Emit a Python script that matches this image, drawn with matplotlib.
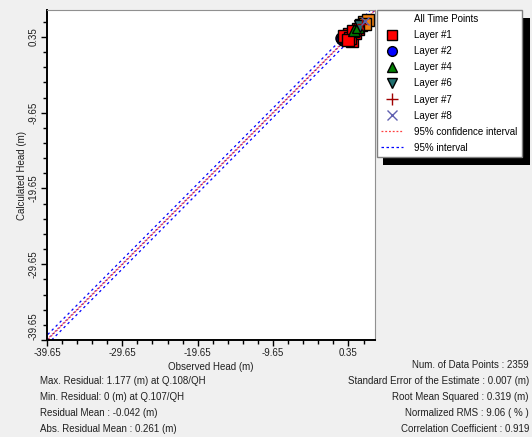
import numpy as np
import matplotlib.pyplot as plt
from matplotlib.patches import Rectangle
from matplotlib.ticker import FixedLocator

# axis range and ticks
axis_min = -39.65
axis_max = 3.9
tick_values = [-39.65, -29.65, -19.65, -9.65, 0.35]
tick_labels = ["-39.65", "-29.65", "-19.65", "-9.65", "0.35"]
minor_step = 2.0

# interval half-widths (m)
conf_offset = 0.06
pred_offset = 0.62

# observed / calculated heads per layer
layer1_obs = [0.08, 0.88, 1.68, 0.48, 1.28, -0.2, 0.6, 1.0, 0.3]
layer1_calc = [0.35, -0.18, 1.40, 0.74, 0.88, 0.5, 0.2, 1.1, 0.0]
layer2_obs = [-0.58, -0.32, -0.45]
layer2_calc = [0.22, -0.04, 0.05]
layer4_obs = [1.15, 1.68]
layer4_calc = [1.27, 1.67]
layer6_obs = [1.9]
layer6_calc = [1.85]
layer7_obs = [2.1]
layer7_calc = [2.0]
layer8_obs = [2.5]
layer8_calc = [2.4]
other_obs = [2.35, 2.88, 2.0, 2.6]
other_calc = [2.32, 2.59, 1.9, 2.1]

left_stats = [
    "Max. Residual: 1.177 (m) at Q.108/QH",
    "Min. Residual: 0 (m) at Q.107/QH",
    "Residual Mean : -0.042 (m)",
    "Abs. Residual Mean : 0.261 (m)",
]
right_stats = [
    "Num. of Data Points : 2359",
    "Standard Error of the Estimate : 0.007 (m)",
    "Root Mean Squared : 0.319 (m)",
    "Normalized RMS : 9.06 ( % )",
    "Correlation Coefficient : 0.919",
]

plt.rcParams['font.family'] = ['Liberation Sans', 'DejaVu Sans']
plt.rcParams['font.size'] = 7

fig = plt.figure(figsize=(5.32, 4.37), dpi=100, facecolor='#f0f0f0')
ax = fig.add_axes([0.0883, 0.222, 0.617, 0.755])
ax.set_facecolor('white')

line_x = [axis_min - 2, axis_max + 2]
ax.plot(line_x, line_x, color='blue', lw=0.9, ls=(0, (1, 2)))
ax.plot(line_x, [v + conf_offset for v in line_x], color='#ff4040', lw=0.9, ls=(1, (1, 2)))
ax.plot(line_x, [v - conf_offset for v in line_x], color='#ff4040', lw=0.9, ls=(2, (1, 2)))
ax.plot(line_x, [v + pred_offset for v in line_x], color='blue', lw=0.9, ls=(0, (2, 2.5)))
ax.plot(line_x, [v - pred_offset for v in line_x], color='blue', lw=0.9, ls=(0, (2, 2.5)))

mk = dict(ls='none', markeredgecolor='black', markeredgewidth=1.0, ms=8)
ax.plot(other_obs, other_calc, marker='s', color='#f08010', **mk)
ax.plot(layer2_obs, layer2_calc, marker='o', color='blue', **mk)
ax.plot(layer1_obs, layer1_calc, marker='s', color='red', **mk)
ax.plot(layer4_obs, layer4_calc, marker='^', color='#008000', **mk)
ax.plot(layer6_obs, layer6_calc, marker='v', color='#207070', **mk)
ax.plot(layer7_obs, layer7_calc, marker='+', color='#a00000', ls='none', ms=7)
ax.plot(layer8_obs, layer8_calc, marker='x', color='#6060b0', ls='none', ms=6)

ax.set_xlim(axis_min, axis_max)
ax.set_ylim(axis_min, axis_max)
minor_values = np.arange(axis_min, axis_max, minor_step)
for axis in (ax.xaxis, ax.yaxis):
    axis.set_major_locator(FixedLocator(tick_values))
    axis.set_minor_locator(FixedLocator(minor_values))
ax.set_xticklabels(tick_labels)
ax.set_yticklabels(tick_labels, rotation=90, va='center')
# bottom y label sits above its tick, as in the source program
ax.get_yticklabels()[0].set_va('bottom')
ax.tick_params(which='major', direction='out', length=4, width=1, color='black',
               labelsize=7, labelcolor='#202020', pad=2)
ax.tick_params(which='minor', direction='out', length=3, width=1, color='black')
ax.spines['left'].set_linewidth(1.4)
ax.spines['bottom'].set_linewidth(1.4)
ax.spines['top'].set_color('#909090')
ax.spines['right'].set_color('#909090')
ax.set_xlabel("Observed Head (m)", fontsize=7, color='#202020', labelpad=3)
ax.set_ylabel("Calculated Head (m)", fontsize=7, color='#202020', labelpad=1)

# legend handles (first row acts as title, aligned with labels)
h = []
h += ax.plot([], [], ls='none', label='All Time Points')
h += ax.plot([], [], marker='s', color='red', ls='none', mec='black', ms=7, label='Layer #1')
h += ax.plot([], [], marker='o', color='blue', ls='none', mec='black', ms=7, label='Layer #2')
h += ax.plot([], [], marker='^', color='#008000', ls='none', mec='black', ms=7, label='Layer #4')
h += ax.plot([], [], marker='v', color='#207070', ls='none', mec='black', ms=7, label='Layer #6')
h += ax.plot([], [], marker='+', color='#a00000', ls='none', ms=9, label='Layer #7')
h += ax.plot([], [], marker='x', color='#6060b0', ls='none', ms=7, label='Layer #8')
h += ax.plot([], [], color='#ff4040', ls=(0, (1.5, 1.5)), lw=0.9, label='95% confidence interval')
h += ax.plot([], [], color='blue', ls=(0, (2, 2)), lw=0.9, label='95% interval')

leg = fig.legend(handles=h, loc='upper left',
                 bbox_to_anchor=(377 / 532, 1 - 10 / 437), fontsize=7,
                 frameon=True, fancybox=False, edgecolor='#808080', facecolor='white',
                 framealpha=1, borderpad=0.45, labelspacing=0.62, handlelength=2.2,
                 handletextpad=1.2, borderaxespad=0)
leg.get_frame().set_linewidth(1.0)

fig.canvas.draw()
bb = leg.get_window_extent().transformed(fig.transFigure.inverted())
dx, dy = 6 / 532, 8 / 437
shadow = Rectangle((bb.x0 + dx, bb.y0 - dy), bb.width + 2 / 532, bb.height,
                   transform=fig.transFigure, facecolor='black', edgecolor='none',
                   zorder=leg.get_zorder() - 1)
fig.patches.append(shadow)

for i, s in enumerate(left_stats):
    fig.text(40 / 532, 1 - (381 + 16 * i) / 437, s, fontsize=7, color='#202020', va='center')
for i, s in enumerate(right_stats):
    fig.text(529 / 532, 1 - (365 + 16 * i) / 437, s, fontsize=7, color='#202020',
             va='center', ha='right')

fig.savefig("out.png", dpi=100, facecolor=fig.get_facecolor())
